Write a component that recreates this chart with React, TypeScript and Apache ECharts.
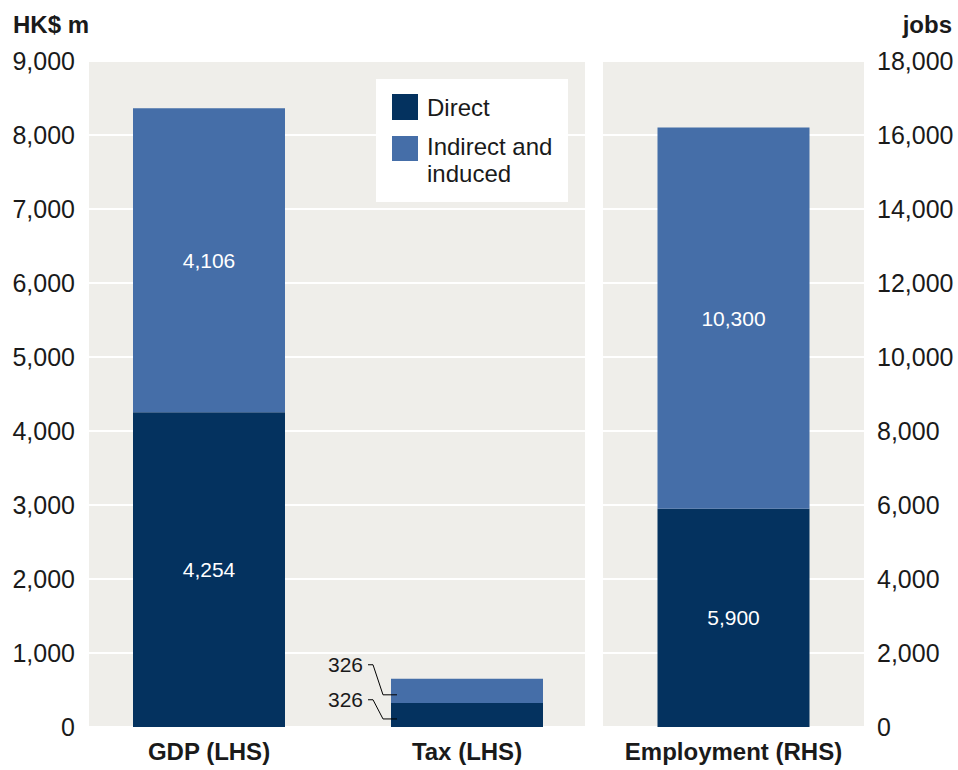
import React, { useEffect, useRef } from "react";
import * as echarts from "echarts";

const leftCategories = ["GDP (LHS)", "Tax (LHS)"];
const rightCategories = ["Employment (RHS)"];
const directLeft = [4254, 326];
const indirectLeft = [4106, 326];
const directRight = [5900];
const indirectRight = [10300];
const seriesNames = ["Direct", "Indirect and induced"];
const leftUnit = "HK$ m";
const rightUnit = "jobs";
// annotated tax segments: [category index, low, high, label]
const taxCallouts: [number, number, number, string][] = [
  [1, 0, 326, "326"],
  [1, 326, 652, "326"],
];

const DARK = "#04325f";
const LIGHT = "#456ea8";
const PANEL = "#efeeea";
const FONT = "Liberation Sans";
const TEXT = "#1a1a1a";
const BAR_W = 152;

export default function App() {
  const ref = useRef<HTMLDivElement>(null);
  useEffect(() => {
    if (!ref.current) return;
    const chart = echarts.init(ref.current, undefined, { renderer: "svg" });
    const fmt = (v: number) => v.toLocaleString("en-US");
    const valueLabel = {
      show: true,
      position: "inside",
      color: "#ffffff",
      fontSize: 21,
      fontFamily: FONT,
      formatter: (p: any) => fmt(p.value),
    };
    const topIndex = taxCallouts.length - 1;
    const catLabel = { fontSize: 24, fontWeight: "bold", color: TEXT, margin: 12, fontFamily: FONT };
    const hiddenAxis = { show: false };
    chart.setOption({
      animation: false,
      textStyle: { fontFamily: FONT },
      title: [
        {
          text: leftUnit,
          left: 8,
          top: 7,
          textStyle: { fontSize: 24, fontWeight: "bold", color: TEXT, fontFamily: FONT },
        },
        {
          text: rightUnit,
          right: 1,
          top: 7,
          textStyle: { fontSize: 24, fontWeight: "bold", color: TEXT, fontFamily: FONT },
        },
      ],
      grid: [
        // left panel background + left value axis
        { left: 89, right: 373, top: 61, bottom: 43, show: true, backgroundColor: PANEL, borderWidth: 0 },
        // right panel
        { left: 603, right: 94, top: 61, bottom: 43, show: true, backgroundColor: PANEL, borderWidth: 0 },
        // left panel bars (category placement)
        { left: 80, right: 362, top: 61, bottom: 43, show: false },
      ],
      xAxis: [
        {
          type: "category",
          gridIndex: 2,
          data: leftCategories,
          axisLine: { show: false },
          axisTick: { show: false },
          axisLabel: catLabel,
        },
        {
          type: "category",
          gridIndex: 1,
          data: rightCategories,
          axisLine: { show: false },
          axisTick: { show: false },
          axisLabel: catLabel,
        },
        { type: "category", gridIndex: 0, data: leftCategories, ...hiddenAxis },
      ],
      yAxis: [
        {
          type: "value",
          gridIndex: 0,
          min: 0,
          max: 9000,
          interval: 1000,
          position: "left",
          axisLine: { show: false },
          axisTick: { show: false },
          splitLine: { lineStyle: { color: "#ffffff", width: 2 } },
          axisLabel: { fontSize: 25, color: TEXT, margin: 14, formatter: fmt, fontFamily: FONT },
        },
        {
          type: "value",
          gridIndex: 1,
          min: 0,
          max: 18000,
          interval: 2000,
          position: "right",
          axisLine: { show: false },
          axisTick: { show: false },
          splitLine: { lineStyle: { color: "#ffffff", width: 2 } },
          axisLabel: { fontSize: 25, color: TEXT, margin: 13, formatter: fmt, fontFamily: FONT },
        },
        { type: "value", gridIndex: 2, min: 0, max: 9000, interval: 1000, ...hiddenAxis },
      ],
      series: [
        {
          name: seriesNames[0],
          type: "bar",
          stack: "left",
          xAxisIndex: 0,
          yAxisIndex: 2,
          barWidth: BAR_W,
          itemStyle: { color: DARK },
          label: valueLabel,
          data: directLeft.map((v, i) => (i === 0 ? v : { value: v, label: { show: false } })),
        },
        {
          name: seriesNames[1],
          type: "bar",
          stack: "left",
          xAxisIndex: 0,
          yAxisIndex: 2,
          barWidth: BAR_W,
          itemStyle: { color: LIGHT },
          label: valueLabel,
          data: indirectLeft.map((v, i) => (i === 0 ? v : { value: v, label: { show: false } })),
        },
        {
          name: seriesNames[0],
          type: "bar",
          stack: "right",
          xAxisIndex: 1,
          yAxisIndex: 1,
          barWidth: BAR_W,
          itemStyle: { color: DARK },
          label: valueLabel,
          data: directRight,
        },
        {
          name: seriesNames[1],
          type: "bar",
          stack: "right",
          xAxisIndex: 1,
          yAxisIndex: 1,
          barWidth: BAR_W,
          itemStyle: { color: LIGHT },
          label: valueLabel,
          data: indirectRight,
        },
        {
          type: "custom",
          xAxisIndex: 0,
          yAxisIndex: 2,
          z: 10,
          silent: true,
          data: taxCallouts,
          renderItem: (params: any, api: any) => {
            const cat = api.value(0);
            const lo = api.value(1);
            const hi = api.value(2);
            const i = params.dataIndex;
            const [cx, yLo] = api.coord([cat, lo]);
            const yHi = api.coord([cat, hi])[1];
            const topVal = taxCallouts[topIndex][2];
            const yTop = api.coord([cat, topVal])[1];
            const left = cx - BAR_W / 2;
            const endY = (yLo + yHi) / 2 + 4;
            const textY = yTop - 14 + (topIndex - i) * 35;
            return {
              type: "group",
              children: [
                {
                  type: "polyline",
                  shape: {
                    points: [
                      [left - 23, textY],
                      [left - 18, textY],
                      [left - 8, endY],
                      [left + 6, endY],
                    ],
                  },
                  style: { stroke: "#000000", lineWidth: 1, fill: null },
                },
                {
                  type: "text",
                  x: left - 28,
                  y: textY,
                  style: {
                    text: taxCallouts[i][3],
                    fontSize: 21,
                    fontFamily: FONT,
                    fill: TEXT,
                    align: "right",
                    verticalAlign: "middle",
                  },
                },
              ],
            };
          },
        },
      ],
      graphic: [
        {
          type: "group",
          x: 376,
          y: 79,
          children: [
            { type: "rect", shape: { x: 0, y: 0, width: 192, height: 123 }, style: { fill: "#ffffff" } },
            { type: "rect", shape: { x: 16, y: 15, width: 26, height: 26 }, style: { fill: DARK } },
            {
              type: "text",
              x: 51,
              y: 28,
              style: { text: seriesNames[0], fontSize: 24, fontFamily: FONT, fill: TEXT, verticalAlign: "middle" },
            },
            { type: "rect", shape: { x: 16, y: 56, width: 26, height: 26 }, style: { fill: LIGHT } },
            {
              type: "text",
              x: 51,
              y: 54,
              style: {
                text: "Indirect and\ninduced",
                fontSize: 24,
                lineHeight: 27,
                fontFamily: FONT,
                fill: TEXT,
                verticalAlign: "top",
              },
            },
          ],
        },
      ],
    });
    return () => chart.dispose();
  }, []);
  return <div ref={ref} style={{ width: 958, height: 770, position: "absolute", left: 0, top: 0 }} />;
}
